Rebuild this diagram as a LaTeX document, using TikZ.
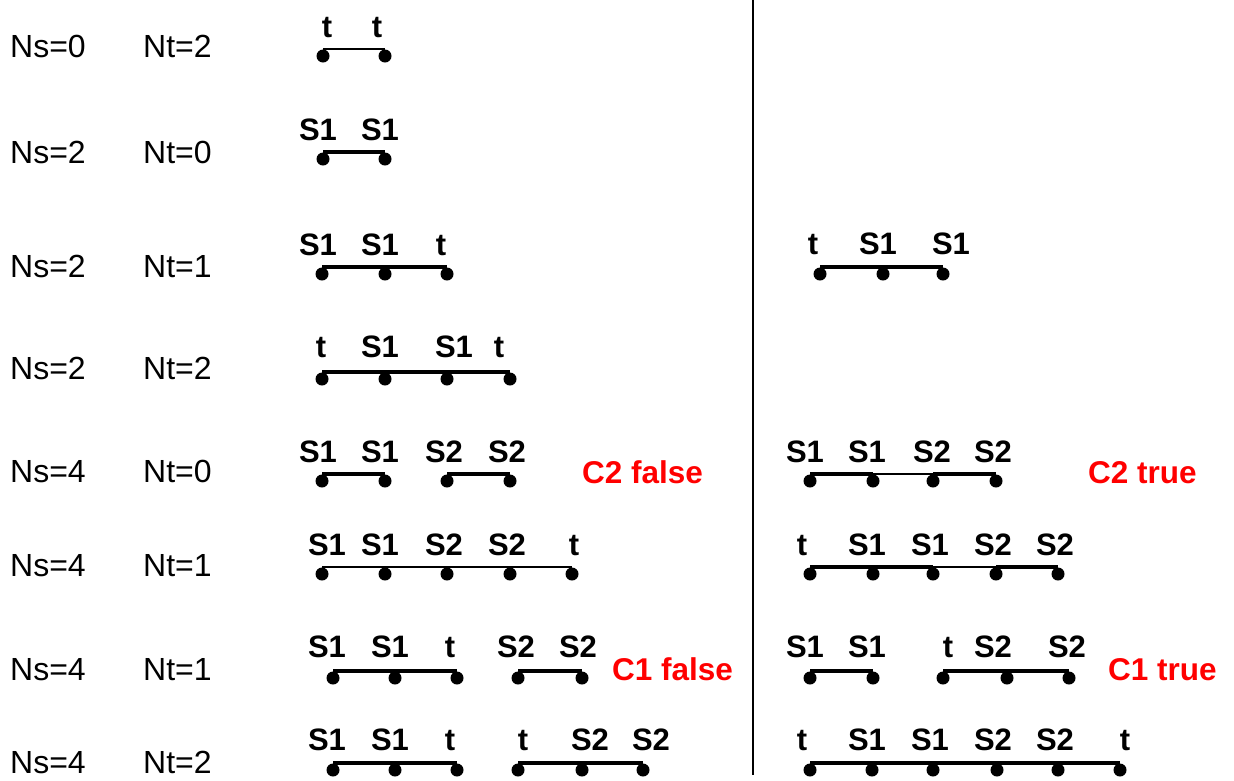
\documentclass[tikz,border=0pt]{standalone}
\usepackage{fontspec}
\setmainfont{Liberation Sans}

\tikzset{
    rowlab/.style={inner sep=0pt, anchor=base west, font=\fontsize{32}{36}\selectfont},
    sitelab/.style={inner sep=0pt, anchor=base, font=\bfseries\fontsize{31}{36}\selectfont},
    verdict/.style={inner sep=0pt, anchor=base west, text=red, font=\bfseries\fontsize{31.5}{36}\selectfont},
    dot/.style={circle, fill=black, inner sep=0pt, minimum size=13pt, yshift=-6pt},
    bond/.style={line width=4pt},
    thinbond/.style={line width=1.8pt}
}

\begin{document}
\begin{tikzpicture}[x=1pt, y=-1pt]
    \useasboundingbox (0,0) rectangle (1234,780);

    % Separator
    \coordinate (septop) at (753,0);
    \coordinate (sepbot) at (753,775);
    \draw[line width=2pt] (septop) -- (sepbot);

    % Row labels
    \node[rowlab] (ns1) at (10,57) {Ns=0};  \node[rowlab] (nt1) at (143,57) {Nt=2};
    \node[rowlab] (ns2) at (10,163) {Ns=2}; \node[rowlab] (nt2) at (143,163) {Nt=0};
    \node[rowlab] (ns3) at (10,277) {Ns=2}; \node[rowlab] (nt3) at (143,277) {Nt=1};
    \node[rowlab] (ns4) at (10,379) {Ns=2}; \node[rowlab] (nt4) at (143,379) {Nt=2};
    \node[rowlab] (ns5) at (10,482) {Ns=4}; \node[rowlab] (nt5) at (143,482) {Nt=0};
    \node[rowlab] (ns6) at (10,576) {Ns=4}; \node[rowlab] (nt6) at (143,576) {Nt=1};
    \node[rowlab] (ns7) at (10,680) {Ns=4}; \node[rowlab] (nt7) at (143,680) {Nt=1};
    \node[rowlab] (ns8) at (10,773) {Ns=4}; \node[rowlab] (nt8) at (143,773) {Nt=2};

    % Row 1
    \node[dot] (r1a) at (323,50) {};
    \node[dot] (r1b) at (385,50) {};
    \draw[thinbond] (r1a.north) -- (r1b.north);
    \node[sitelab] (l1a) at (327,37) {t};
    \node[sitelab] (l1b) at (377,37) {t};

    % Row 2
    \node[dot] (r2a) at (323,153) {};
    \node[dot] (r2b) at (385,153) {};
    \draw[bond] (r2a.north) -- (r2b.north);
    \node[sitelab] (l2a) at (318,140) {S1};
    \node[sitelab] (l2b) at (380,140) {S1};

    % Row 3
    \node[dot] (r3a) at (322,268) {};
    \node[dot] (r3b) at (385,268) {};
    \node[dot] (r3c) at (447,268) {};
    \draw[bond] (r3a.north) -- (r3b.north) -- (r3c.north);
    \node[sitelab] (l3a) at (318,255) {S1};
    \node[sitelab] (l3b) at (380,255) {S1};
    \node[sitelab] (l3c) at (441,255) {t};
    \node[dot] (q3a) at (820,268) {};
    \node[dot] (q3b) at (883,268) {};
    \node[dot] (q3c) at (943,268) {};
    \draw[bond] (q3a.north) -- (q3b.north) -- (q3c.north);
    \node[sitelab] (m3a) at (813,254) {t};
    \node[sitelab] (m3b) at (878,254) {S1};
    \node[sitelab] (m3c) at (951,254) {S1};

    % Row 4
    \node[dot] (r4a) at (322,373) {};
    \node[dot] (r4b) at (385,373) {};
    \node[dot] (r4c) at (447,373) {};
    \node[dot] (r4d) at (510,373) {};
    \draw[bond] (r4a.north) -- (r4b.north) -- (r4c.north) -- (r4d.north);
    \node[sitelab] (l4a) at (321,357) {t};
    \node[sitelab] (l4b) at (380,357) {S1};
    \node[sitelab] (l4c) at (454,357) {S1};
    \node[sitelab] (l4d) at (499,357) {t};

    % Row 5
    \node[dot] (r5a) at (322,475) {};
    \node[dot] (r5b) at (385,475) {};
    \node[dot] (r5c) at (447,475) {};
    \node[dot] (r5d) at (510,475) {};
    \draw[bond] (r5a.north) -- (r5b.north);
    \draw[bond] (r5c.north) -- (r5d.north);
    \node[sitelab] (l5a) at (318,462) {S1};
    \node[sitelab] (l5b) at (380,462) {S1};
    \node[sitelab] (l5c) at (444,462) {S2};
    \node[sitelab] (l5d) at (507,462) {S2};
    \node[verdict] (c2f) at (582,483) {C2 false};
    \node[dot] (q5a) at (810,475) {};
    \node[dot] (q5b) at (873,475) {};
    \node[dot] (q5c) at (933,475) {};
    \node[dot] (q5d) at (996,475) {};
    \draw[bond] (q5a.north) -- (q5b.north);
    \draw[thinbond] (q5b.north) -- (q5c.north);
    \draw[bond] (q5c.north) -- (q5d.north);
    \node[sitelab] (m5a) at (805,462) {S1};
    \node[sitelab] (m5b) at (867,462) {S1};
    \node[sitelab] (m5c) at (932,462) {S2};
    \node[sitelab] (m5d) at (993,462) {S2};
    \node[verdict] (c2t) at (1088,483) {C2 true};

    % Row 6
    \node[dot] (r6a) at (322,568) {};
    \node[dot] (r6b) at (385,568) {};
    \node[dot] (r6c) at (447,568) {};
    \node[dot] (r6d) at (510,568) {};
    \node[dot] (r6e) at (572,568) {};
    \draw[thinbond] (r6a.north) -- (r6b.north) -- (r6c.north) -- (r6d.north) -- (r6e.north);
    \node[sitelab] (l6a) at (327,555) {S1};
    \node[sitelab] (l6b) at (380,555) {S1};
    \node[sitelab] (l6c) at (444,555) {S2};
    \node[sitelab] (l6d) at (507,555) {S2};
    \node[sitelab] (l6e) at (574,555) {t};
    \node[dot] (q6a) at (810,568) {};
    \node[dot] (q6b) at (873,568) {};
    \node[dot] (q6c) at (933,568) {};
    \node[dot] (q6d) at (996,568) {};
    \node[dot] (q6e) at (1058,568) {};
    \draw[bond] (q6a.north) -- (q6b.north) -- (q6c.north);
    \draw[thinbond] (q6c.north) -- (q6d.north);
    \draw[bond] (q6d.north) -- (q6e.north);
    \node[sitelab] (m6a) at (802,555) {t};
    \node[sitelab] (m6b) at (867,555) {S1};
    \node[sitelab] (m6c) at (930,555) {S1};
    \node[sitelab] (m6d) at (993,555) {S2};
    \node[sitelab] (m6e) at (1055,555) {S2};

    % Row 7
    \node[dot] (r7a) at (333,672) {};
    \node[dot] (r7b) at (395,672) {};
    \node[dot] (r7c) at (457,672) {};
    \node[dot] (r7d) at (518,672) {};
    \node[dot] (r7e) at (582,672) {};
    \draw[bond] (r7a.north) -- (r7b.north) -- (r7c.north);
    \draw[bond] (r7d.north) -- (r7e.north);
    \node[sitelab] (l7a) at (327,657) {S1};
    \node[sitelab] (l7b) at (390,657) {S1};
    \node[sitelab] (l7c) at (450,657) {t};
    \node[sitelab] (l7d) at (516,657) {S2};
    \node[sitelab] (l7e) at (578,657) {S2};
    \node[verdict] (c1f) at (612,680) {C1 false};
    \node[dot] (q7a) at (810,672) {};
    \node[dot] (q7b) at (873,672) {};
    \node[dot] (q7c) at (943,672) {};
    \node[dot] (q7d) at (1007,672) {};
    \node[dot] (q7e) at (1069,672) {};
    \draw[bond] (q7a.north) -- (q7b.north);
    \draw[bond] (q7c.north) -- (q7d.north) -- (q7e.north);
    \node[sitelab] (m7a) at (805,657) {S1};
    \node[sitelab] (m7b) at (867,657) {S1};
    \node[sitelab] (m7c) at (948,657) {t};
    \node[sitelab] (m7d) at (993,657) {S2};
    \node[sitelab] (m7e) at (1067,657) {S2};
    \node[verdict] (c1t) at (1108,680) {C1 true};

    % Row 8
    \node[dot] (r8a) at (333,764) {};
    \node[dot] (r8b) at (395,764) {};
    \node[dot] (r8c) at (457,764) {};
    \node[dot] (r8d) at (518,764) {};
    \node[dot] (r8e) at (582,764) {};
    \node[dot] (r8f) at (643,764) {};
    \draw[bond] (r8a.north) -- (r8b.north) -- (r8c.north);
    \draw[bond] (r8d.north) -- (r8e.north) -- (r8f.north);
    \node[sitelab] (l8a) at (327,750) {S1};
    \node[sitelab] (l8b) at (390,750) {S1};
    \node[sitelab] (l8c) at (450,750) {t};
    \node[sitelab] (l8d) at (523,750) {t};
    \node[sitelab] (l8e) at (590,750) {S2};
    \node[sitelab] (l8f) at (651,750) {S2};
    \node[dot] (q8a) at (810,764) {};
    \node[dot] (q8b) at (872,764) {};
    \node[dot] (q8c) at (933,764) {};
    \node[dot] (q8d) at (997,764) {};
    \node[dot] (q8e) at (1058,764) {};
    \node[dot] (q8f) at (1120,764) {};
    \draw[bond] (q8a.north) -- (q8b.north) -- (q8c.north) -- (q8d.north) -- (q8e.north) -- (q8f.north);
    \node[sitelab] (m8a) at (802,750) {t};
    \node[sitelab] (m8b) at (867,750) {S1};
    \node[sitelab] (m8c) at (930,750) {S1};
    \node[sitelab] (m8d) at (993,750) {S2};
    \node[sitelab] (m8e) at (1055,750) {S2};
    \node[sitelab] (m8f) at (1125,750) {t};
\end{tikzpicture}
\end{document}
